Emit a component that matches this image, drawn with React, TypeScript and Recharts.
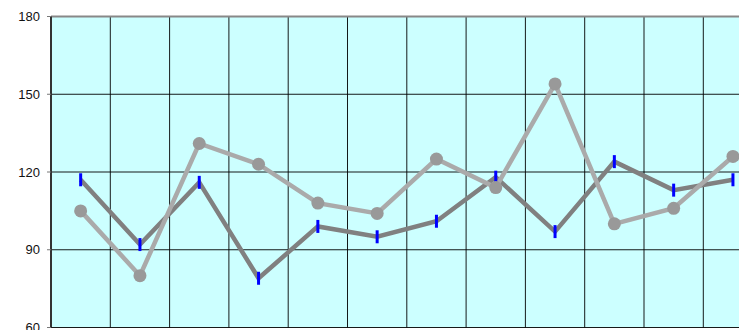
import { LineChart, Line, XAxis, YAxis, CartesianGrid, ReferenceLine } from 'recharts'

const CATEGORIES = ['1', '2', '3', '4', '5', '6', '7', '8', '9', '10', '11', '12']
const SERIES_DARK = [117, 92, 116, 79, 99, 95, 101, 118, 97, 124, 113, 117]
const SERIES_LIGHT = [105, 80, 131, 123, 108, 104, 125, 114, 154, 100, 106, 126]
const Y_TICKS = [60, 90, 120, 150, 180]

// category i sits in the middle of band [i, i+1]
const data = CATEGORIES.map((c, i) => ({
  name: c,
  x: i + 0.5,
  dark: SERIES_DARK[i],
  light: SERIES_LIGHT[i],
}))
const bandEdges = CATEGORIES.map((_, i) => i).concat(CATEGORIES.length)

const BarDot = (props: any) => {
  const { cx, cy } = props
  if (cx == null || cy == null) return null
  return <line x1={cx} x2={cx} y1={cy - 6.5} y2={cy + 6.5} stroke="#0000FF" strokeWidth={3} />
}

export default function App() {
  return (
    <div style={{ width: 739, height: 322, overflow: 'hidden' }}>
      <LineChart
        width={760}
        height={330}
        data={data}
        margin={{ top: 8.5, right: 5.4, left: 0, bottom: 10.5 }}
        style={{ fontFamily: '"Liberation Sans", Arial, sans-serif' }}
      >
        <CartesianGrid fill="#CCFFFF" stroke="#000" strokeOpacity={0.9} />
        <XAxis
          type="number"
          dataKey="x"
          domain={[0, CATEGORIES.length]}
          ticks={bandEdges}
          hide
        />
        <YAxis
          domain={[60, 180]}
          ticks={Y_TICKS}
          width={43}
          axisLine={{ stroke: '#333', strokeWidth: 2 }}
          tickLine={{ stroke: '#777' }}
          tickSize={4}
          tickMargin={7}
          tick={{ fill: '#111', fontSize: 13 }}
        />
        <ReferenceLine y={180} stroke="#888" strokeWidth={2} />
        <Line
          dataKey="dark"
          stroke="#808080"
          strokeWidth={4.5}
          dot={<BarDot />}
          activeDot={false}
          isAnimationActive={false}
        />
        <Line
          dataKey="light"
          stroke="#AAAAAA"
          strokeWidth={4.5}
          dot={{ r: 6.5, fill: '#999999', stroke: 'none' }}
          activeDot={false}
          isAnimationActive={false}
        />
      </LineChart>
    </div>
  )
}
